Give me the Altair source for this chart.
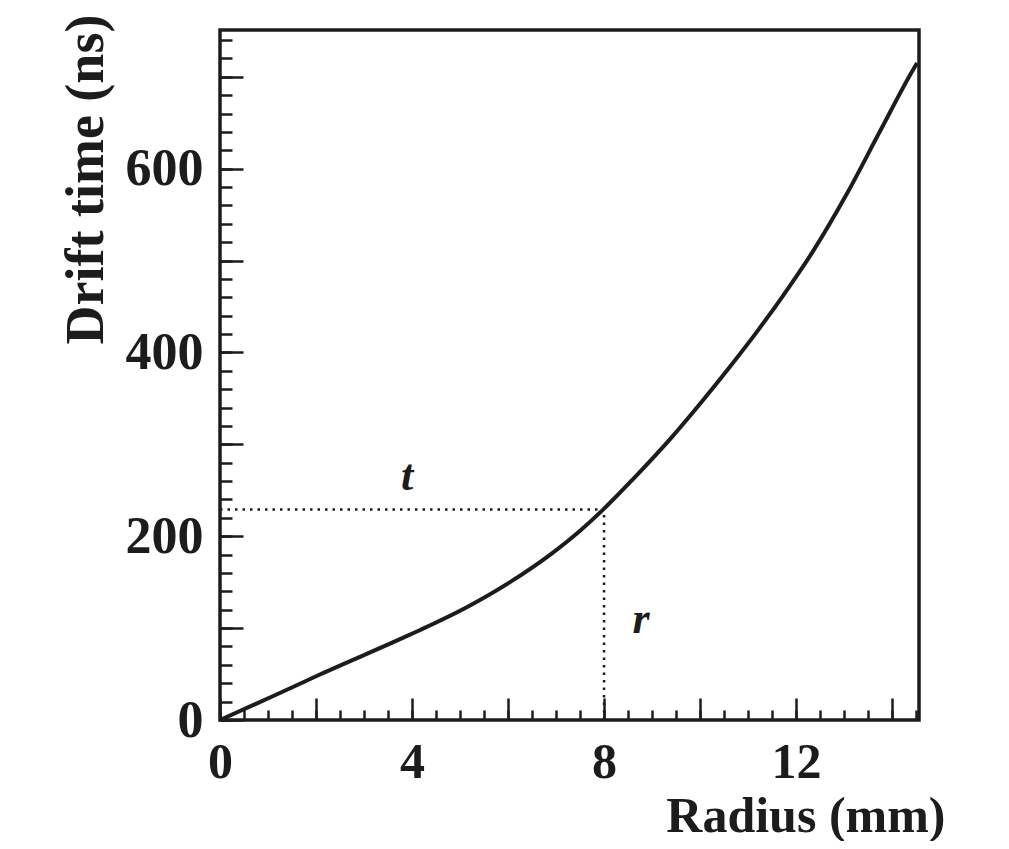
import altair as alt
import pandas as pd

# Drift-time curve
radius_mm = [0.0, 1.19, 2.08, 3.75, 4.17, 5.15, 6.04, 6.88, 7.5, 7.98, 8.6,
             9.38, 10.06, 10.63, 11.19, 11.73, 12.35, 13.06, 13.75, 14.44, 14.52]
drift_ns = [0, 28, 49.5, 88, 98, 123, 150, 180, 206, 229, 262,
            306, 348, 385, 423, 462, 510, 573, 641, 708, 715]

# dotted guide at r = 8 mm
guide_r = 8.0
guide_t = 229

# annotation letters
note_text = ["t", "r"]
note_r = [3.9, 8.77]
note_t = [265, 109]

# axes
x_domain = [0, 14.56]
y_domain = [0, 751]
x_label_values = [0, 4, 8, 12]
x_major_ticks = [0, 2, 4, 6, 8, 10, 12, 14]
x_minor_ticks = [0, 0.5, 1, 1.5, 2, 2.5, 3, 3.5, 4, 4.5, 5, 5.5, 6, 6.5, 7, 7.5,
                 8, 8.5, 9, 9.5, 10, 10.5, 11, 11.5, 12, 12.5, 13, 13.5, 14, 14.5]
y_label_values = [0, 200, 400, 600]
y_major_ticks = [0, 100, 200, 300, 400, 500, 600, 700]
y_minor_ticks = [0, 20, 40, 60, 80, 100, 120, 140, 160, 180, 200, 220, 240, 260,
                 280, 300, 320, 340, 360, 380, 400, 420, 440, 460, 480, 500, 520,
                 540, 560, 580, 600, 620, 640, 660, 680, 700, 720, 740]

df_curve = pd.DataFrame({"r": radius_mm, "t": drift_ns})
df_guide = pd.DataFrame({
    "r": [0.0, guide_r], "r2": [guide_r, guide_r],
    "t": [guide_t, 0], "t2": [guide_t, guide_t],
})
df_note = pd.DataFrame({"r": note_r, "t": note_t, "label": note_text})

xs = alt.Scale(domain=x_domain, nice=False, zero=False)
ys = alt.Scale(domain=y_domain, nice=False, zero=False)

FONT = "Liberation Serif"
INK = "#1c1c1c"

curve = alt.Chart(df_curve).mark_line(
    color=INK, strokeWidth=4, interpolate="monotone"
).encode(
    x=alt.X("r:Q", scale=xs, axis=alt.Axis(
        orient="bottom", values=x_label_values, ticks=False, tickSize=0,
        labelPadding=17, labelFlush=False, labelFontSize=50,
        title="Radius (mm)", titleX=725, titleY=111, titleAlign="right",
        titleBaseline="alphabetic", titleFontSize=50)),
    y=alt.Y("t:Q", scale=ys, axis=alt.Axis(
        orient="left", values=y_label_values, ticks=False, tickSize=0,
        labelPadding=17, labelFlush=False, title="Drift time (ns)",
        titleAngle=270, titleX=-118, titleY=314, titleAlign="left",
        titleBaseline="alphabetic")),
)

guides = alt.Chart(df_guide).mark_rule(
    color=INK, strokeWidth=2.5, strokeDash=[2.5, 5]
).encode(
    x=alt.X("r:Q", scale=xs, axis=alt.Axis(
        orient="bottom", values=x_major_ticks, labels=False, tickSize=22,
        offset=-22, tickWidth=2.5, tickColor=INK, title="")),
    x2="r2:Q",
    y=alt.Y("t:Q", scale=ys, axis=alt.Axis(
        orient="left", values=y_major_ticks, labels=False, tickSize=23,
        offset=-23, tickWidth=2.5, tickColor=INK, title="")),
    y2="t2:Q",
)

notes = alt.Chart(df_note).mark_text(
    font=FONT, fontStyle="italic", fontWeight="bold", fontSize=44,
    color=INK, baseline="middle", align="center"
).encode(
    x=alt.X("r:Q", scale=xs, axis=alt.Axis(
        orient="bottom", values=x_minor_ticks, labels=False, tickSize=10,
        offset=-10, tickWidth=2.5, tickColor=INK, title="")),
    y=alt.Y("t:Q", scale=ys, axis=alt.Axis(
        orient="left", values=y_minor_ticks, labels=False, tickSize=12,
        offset=-12, tickWidth=2.5, tickColor=INK, title="")),
    text="label:N",
)

chart = alt.layer(curve, guides, notes).resolve_axis(
    x="independent", y="independent"
).properties(
    width=699, height=690,
    autosize=alt.AutoSizeParams(type="none"),
    padding={"left": 212, "top": 22, "right": 80, "bottom": 121},
).configure_view(
    stroke=INK, strokeWidth=3.5
).configure_axis(
    domain=False, grid=False,
    labelFont=FONT, labelFontSize=52, labelFontWeight="bold", labelColor=INK,
    titleFont=FONT, titleFontSize=54, titleFontWeight="bold", titleColor=INK,
)

chart.save("out.html", embed_options={"renderer": "svg", "actions": False})
